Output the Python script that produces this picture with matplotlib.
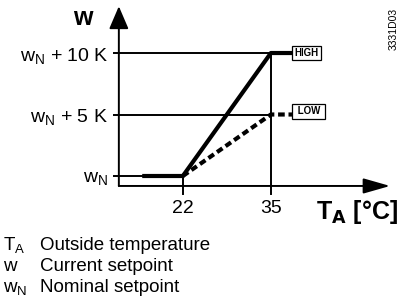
import matplotlib
matplotlib.use('Agg')
import matplotlib.pyplot as plt

plt.rcParams['font.family'] = ['Liberation Sans', 'DejaVu Sans']
plt.rcParams['mathtext.fontset'] = 'custom'
plt.rcParams['mathtext.rm'] = 'Liberation Sans'

# curve data (outside temperature in degC, setpoint offset in K)
t_high = [16, 22, 35, 38.2]
w_high = [0, 0, 10, 10]
t_low = [22, 35, 38.2]
w_low = [0, 5, 5]

x_ticks = [22, 35]
y_levels = [0, 5, 10]
y_labels = [r'$\mathregular{w_N}$', r'$\mathregular{w_N}$ + 5 K', r'$\mathregular{w_N}$ + 10 K']

legend_sym = [r'$\mathregular{T_A}$', 'w', r'$\mathregular{w_N}$']
legend_txt = ['Outside temperature', 'Current setpoint', 'Nominal setpoint']

fig = plt.figure(figsize=(4.07, 3.06), dpi=100)
ax = fig.add_axes([0, 0, 1, 1])
ax.set_xlim(-5.0, 55.1)
ax.set_ylim(-10.57, 14.31)
ax.axis('off')

x0, y0 = 12.55, -0.81   # axis origin
thin = 1.4

# axes with arrows
ax.annotate('', xy=(x0, 13.8), xytext=(x0, y0),
            arrowprops=dict(arrowstyle='-|>,head_length=1.4,head_width=0.6', lw=thin,
                            color='k', mutation_scale=10, shrinkA=0, shrinkB=0))
ax.annotate('', xy=(52.6, y0), xytext=(x0, y0),
            arrowprops=dict(arrowstyle='-|>,head_length=1.65,head_width=0.47', lw=thin,
                            color='k', mutation_scale=10, shrinkA=0, shrinkB=0))

# reference lines
for lv, lab in zip(y_levels, y_labels):
    xe = 35 if lv > 0 else 22
    ax.plot([11.66, xe], [lv, lv], color='k', lw=thin, solid_capstyle='butt')
    ax.text(11.0, lv, lab, ha='right', va='center_baseline', fontsize=14)
ax.plot([22, 22], [0, -1.46], color='k', lw=thin)
ax.plot([35, 35], [10, -1.46], color='k', lw=thin)
for xt in x_ticks:
    ax.text(xt, -3.0, str(xt), ha='center', va='baseline', fontsize=14)

# curves
ax.plot(t_high, w_high, color='k', lw=3, solid_capstyle='butt')
ax.plot(t_low, w_low, color='k', lw=3, dashes=(1.6, 0.9))

box = dict(boxstyle='square,pad=0.25', fc='white', ec='k', lw=0.9)
ax.text(38.5, 10, 'HIGH', ha='left', va='center', fontsize=7, fontweight='bold', bbox=box)
ax.text(38.5, 5.25, ' LOW ', ha='left', va='center', fontsize=7, fontweight='bold', bbox=box)

# axis titles
ax.text(7.2, 12.85, 'w', ha='center', va='center', fontsize=18, fontweight='bold')
ax.text(53.8, -2.95, r'T$_\mathbf{A}$ [°C]', ha='right', va='center', fontsize=18, fontweight='bold',
        math_fontfamily='custom')

fig.text(0.966, 0.905, '3331D03', rotation=90, ha='center', va='center', fontsize=7.5)

# legend text
for i, (s, t) in enumerate(zip(legend_sym, legend_txt)):
    yy = 1 - (250 + 21 * i) / 306
    fig.text(3 / 407, yy, s, ha='left', va='baseline', fontsize=13.5)
    fig.text(40 / 407, yy, t, ha='left', va='baseline', fontsize=13.5)

fig.savefig('out.png', dpi=100)
